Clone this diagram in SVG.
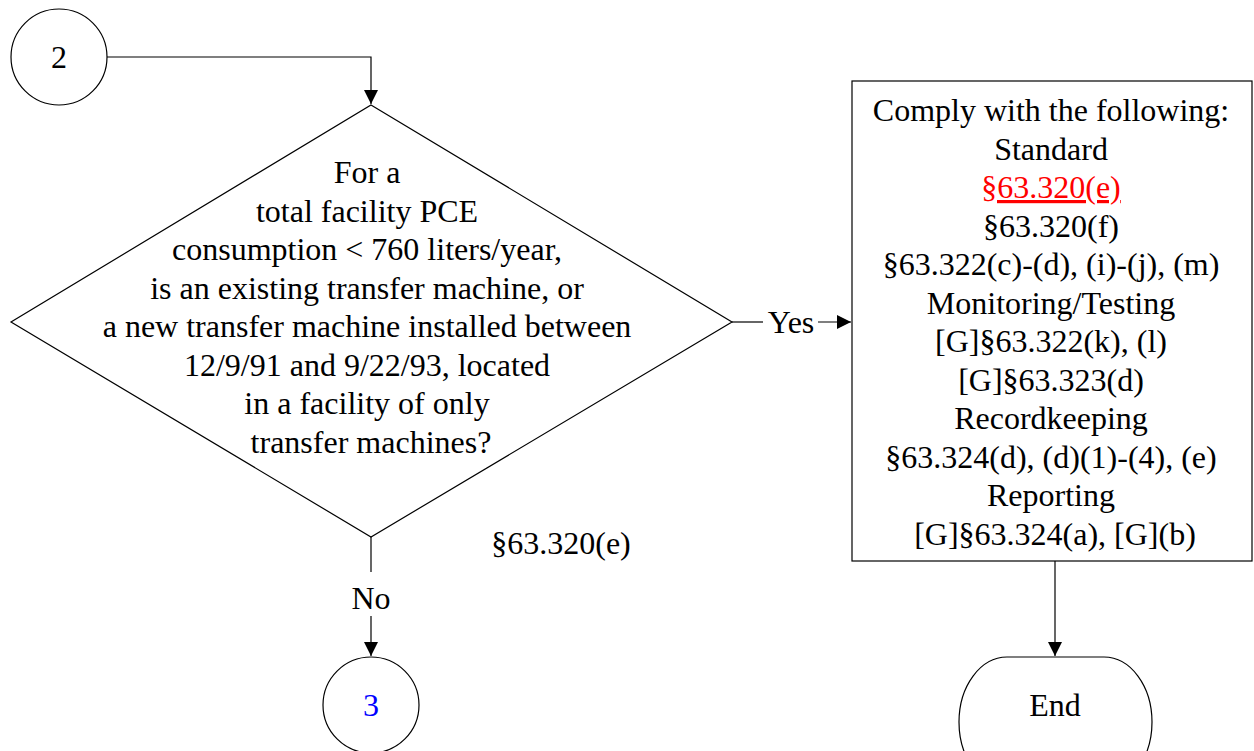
<svg xmlns="http://www.w3.org/2000/svg" width="1254" height="751" viewBox="0 0 1254 751">
<style>
.s{fill:#fff;stroke:#000;stroke-width:1.2}
.t{font-family:"Liberation Serif","Times New Roman",serif;font-size:32px;fill:#000;text-anchor:middle}
.c{fill:none;stroke:#000;stroke-width:1.2}
</style>
<defs>
<marker id="a" viewBox="0 0 10 10" refX="10" refY="5" markerWidth="14" markerHeight="14" markerUnits="userSpaceOnUse" orient="auto">
<path d="M0,0 L10,5 L0,10 z" fill="#000"/>
</marker>
</defs>
<rect width="1254" height="751" fill="#fff"/>
<g id="connectors">
<path class="c" d="M107,57 H371 V104" marker-end="url(#a)"/>
<path class="c" d="M732,322 H763"/>
<path class="c" d="M818,322 H851" marker-end="url(#a)"/>
<path class="c" d="M371,537 V572"/>
<path class="c" d="M371,616 V656" marker-end="url(#a)"/>
<path class="c" d="M1055,561 V656" marker-end="url(#a)"/>
<text class="t" x="791" y="333">Yes</text>
<text class="t" x="371" y="609">No</text>
</g>
<g id="n2">
<circle class="s" cx="59" cy="57" r="48"/>
<text class="t" x="59" y="68">2</text>
</g>
<g id="decision">
<polygon class="s" points="371,105 732,322 371,537 11,322"/>
<text class="t">
<tspan x="371" y="183">For a</tspan>
<tspan x="371" y="221.5">total facility PCE</tspan>
<tspan x="371" y="260">consumption &lt; 760 liters/year,</tspan>
<tspan x="371" y="298.5">is an existing transfer machine, or</tspan>
<tspan x="371" y="337">a new transfer machine installed between</tspan>
<tspan x="371" y="375.5">12/9/91 and 9/22/93, located</tspan>
<tspan x="371" y="414">in a facility of only</tspan>
<tspan x="371" y="452.5">transfer machines?</tspan>
</text>
</g>
<g id="ref">
<text class="t" x="561" y="554">§63.320(e)</text>
</g>
<g id="n3">
<circle class="s" cx="371" cy="705" r="48"/>
<text class="t" x="371" y="716" style="fill:#0000ff">3</text>
</g>
<g id="comply">
<rect class="s" x="852" y="81" width="400" height="480"/>
<text class="t">
<tspan x="1055" y="121">Comply with the following:</tspan>
<tspan x="1055" y="159.5">Standard</tspan>
<tspan x="1055" y="198" style="fill:#ff0000;text-decoration:underline">§63.320(e)</tspan>
<tspan x="1055" y="236.5">§63.320(f)</tspan>
<tspan x="1055" y="275">§63.322(c)-(d), (i)-(j), (m)</tspan>
<tspan x="1055" y="313.5">Monitoring/Testing</tspan>
<tspan x="1055" y="352">[G]§63.322(k), (l)</tspan>
<tspan x="1055" y="390.5">[G]§63.323(d)</tspan>
<tspan x="1055" y="429">Recordkeeping</tspan>
<tspan x="1055" y="467.5">§63.324(d), (d)(1)-(4), (e)</tspan>
<tspan x="1055" y="506">Reporting</tspan>
<tspan x="1055" y="544.5">[G]§63.324(a), [G](b)</tspan>
</text>
</g>
<g id="end">
<rect class="s" x="959" y="657" width="193" height="130" rx="48" ry="65"/>
<text class="t" x="1055" y="716">End</text>
</g>
</svg>
